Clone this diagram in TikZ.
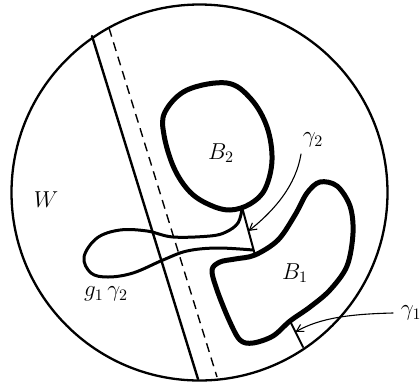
\documentclass[tikz,border=0pt]{standalone}
\usepackage{amsmath,amssymb}
\usetikzlibrary{arrows.meta,calc}

\begin{document}
\begin{tikzpicture}[x=1pt, y=-1pt, line cap=round, line join=round,
    disc/.style={draw=black, line width=2.3pt},
    cutline/.style={draw=black, line width=2.4pt},
    shadow/.style={draw=black, line width=1.4pt, line cap=butt, dash pattern=on 9pt off 6pt},
    ball/.style={draw=black, line width=5pt},
    arc/.style={draw=black, line width=2pt},
    image/.style={draw=black, line width=3pt},
    lab/.style={font=\Large, scale=1.6, transform shape, inner sep=1pt},
    pointer/.style={draw=black, line width=1.1pt, -{Straight Barb[length=7pt, width=8pt, line width=1.1pt]}},
  ]
  \useasboundingbox (0,0) rectangle (420,384);

  % the disc W
  \draw[disc] (199.5,192.5) circle[radius=188pt];

  % the cut and its parallel copy
  \draw[cutline] (92,36) -- (198,379);
  \draw[shadow] (109,28) -- (217,377);

  % the two boundary components
  \draw[ball] plot[smooth cycle, tension=0.6] coordinates {(165,112) (187,90) (227,83) (251,99)
    (267,127) (272,160) (265,189) (250,204) (230,210) (210,205) (190,192) (174,168) (164,135)};
  \draw[ball] plot[smooth cycle, tension=0.55] coordinates {(255,255) (278,240) (295,215) (307,193)
    (320,182) (337,186) (350,206) (353,233) (347,266) (330,290) (310,307) (290,321) (273,336)
    (253,343) (240,340) (229,320) (217,290) (212,270) (220,262) (235,259)};

  % arcs gamma_1 and gamma_2
  \coordinate (g2top) at (242,207);
  \coordinate (g2bot) at (255,255);
  \coordinate (g1in) at (290,321);
  \coordinate (g1out) at (303,347);
  \draw[arc] (g2top) -- (g2bot);
  \draw[arc] (g1in) -- (g1out);

  % image of gamma_2 under g_1
  \draw[image] plot[smooth, tension=0.6] coordinates {(242,209) (238,223) (226,232) (210,236)
    (173,237) (147,231) (120,230) (97,238) (84,257) (91,273) (108,277) (133,273) (163,260)
    (187,251) (217,248) (253,250)};

  % labels
  \node[lab] (lW) at (46,200) {$W$};
  \node[lab] (lB2) at (221,153) {$B_{2}$};
  \node[lab] (lB1) at (295,273) {$B_{1}$};
  \node[lab] (lg) at (106,294) {$g_{1}\,\gamma_{2}$};
  \node[lab] (lg2) at (313,140) {$\gamma_{2}$};
  \node[lab, anchor=west] (lg1) at (399,313) {$\gamma_{1}$};

  % pointers to the arcs
  \coordinate (t2) at ($(g2top)!0.5!(g2bot)$);
  \coordinate (t1) at ($(g1in)!0.42!(g1out)$);
  \draw[pointer] (301,154) .. controls (296,185) and (275,210) .. (t2);
  \draw[pointer] ([xshift=-6pt]lg1.west) .. controls (350,314) and (320,318) .. (t1);
\end{tikzpicture}
\end{document}
